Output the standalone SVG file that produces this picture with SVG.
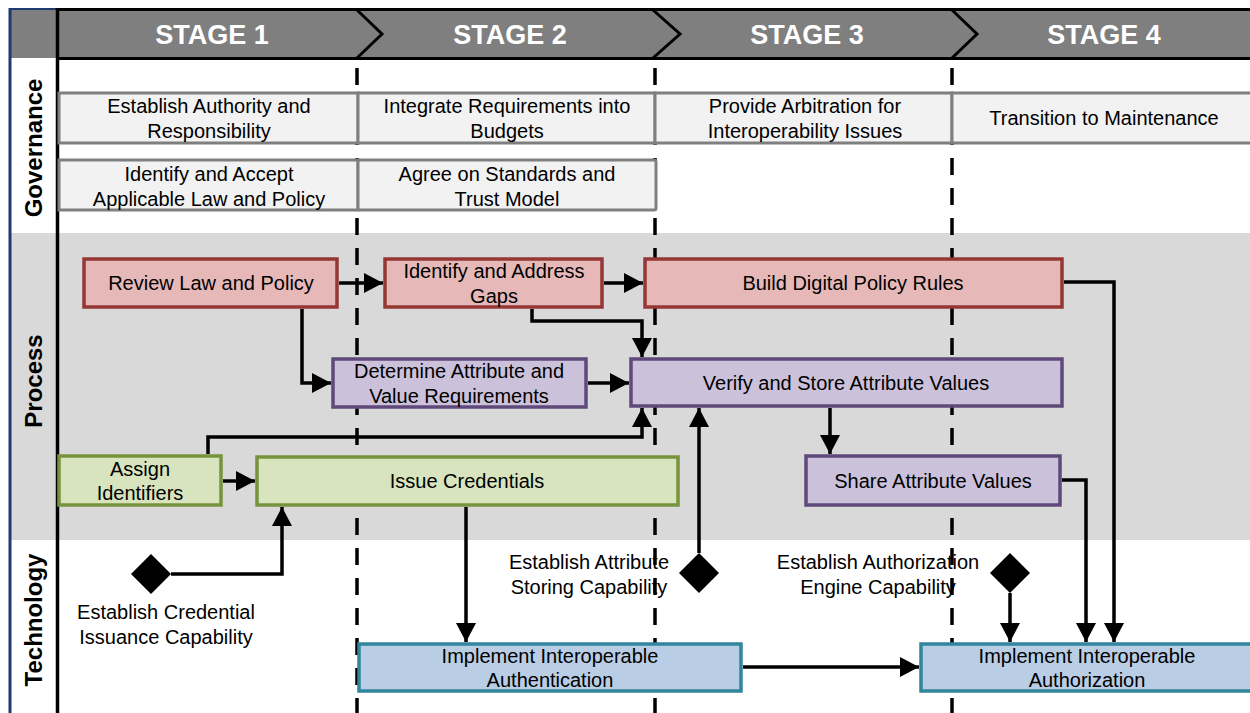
<svg xmlns="http://www.w3.org/2000/svg" width="1250" height="713" viewBox="0 0 1250 713">
<style>
text{font-family:"Liberation Sans",Arial,sans-serif;font-size:20px;fill:#000;text-anchor:middle}
.stage{font-size:27px;font-weight:bold;fill:#fff}
.lane{font-size:24px;font-weight:bold}
.gov{fill:#f2f2f2;stroke:#7f7f7f;stroke-width:3}
.red{fill:#e6b9b8;stroke:#953735;stroke-width:3.5}
.pur{fill:#ccc1da;stroke:#5f497a;stroke-width:3.5}
.grn{fill:#d7e4bd;stroke:#77933c;stroke-width:3.5}
.blu{fill:#b9cde5;stroke:#31859c;stroke-width:3.5}
.dash{stroke:#000;stroke-width:3.5;stroke-dasharray:17 13;fill:none}
.conn path{fill:none;stroke:#000;stroke-width:3.5;marker-end:url(#arr)}
.dia{fill:#000}
</style>
<defs>
<marker id="arr" markerUnits="userSpaceOnUse" markerWidth="20" markerHeight="20" refX="19" refY="10" orient="auto">
<path d="M0,0 L19,10 L0,20 Z" fill="#000"/>
</marker>
</defs>
<rect x="0" y="0" width="1250" height="713" fill="#fff"/>
<!-- lanes -->
<rect x="10" y="233" width="1240" height="307" fill="#d9d9d9"/>
<!-- header -->
<rect x="10" y="9" width="1240" height="49" fill="#7f7f7f"/>
<line x1="57" y1="9.5" x2="1250" y2="9.5" stroke="#000" stroke-width="3"/>
<line x1="57" y1="58.5" x2="1250" y2="58.5" stroke="#000" stroke-width="3"/>
<line x1="9" y1="9" x2="57" y2="9" stroke="#1f3a6e" stroke-width="2"/>
<line x1="10" y1="8" x2="10" y2="713" stroke="#1f3a6e" stroke-width="3"/>
<line x1="57.5" y1="8" x2="57.5" y2="713" stroke="#000" stroke-width="3.5"/>
<g fill="none" stroke="#000" stroke-width="3">
<polyline points="357,10 382,34 357,58"/>
<polyline points="653,10 680,34 653,58"/>
<polyline points="952,10 977,34 952,58"/>
</g>
<text class="stage" x="212" y="44">STAGE 1</text>
<text class="stage" x="510" y="44">STAGE 2</text>
<text class="stage" x="807" y="44">STAGE 3</text>
<text class="stage" x="1104" y="44">STAGE 4</text>
<text class="lane" transform="translate(42,148) rotate(-90)">Governance</text>
<text class="lane" transform="translate(42,381) rotate(-90)">Process</text>
<text class="lane" transform="translate(42,620) rotate(-90)">Technology</text>
<!-- diamond labels -->
<text x="166" y="619">Establish Credential</text>
<text x="166" y="644">Issuance Capability</text>
<text x="589" y="569">Establish Attribute</text>
<text x="589" y="594">Storing Capability</text>
<text x="878" y="569">Establish Authorization</text>
<text x="878" y="594">Engine Capability</text>
<!-- stage dividers -->
<line class="dash" x1="357" y1="68" x2="357" y2="713"/>
<line class="dash" x1="655" y1="68" x2="655" y2="713"/>
<line class="dash" x1="952" y1="68" x2="952" y2="713"/>
<!-- governance -->
<g id="gov-authority"><rect class="gov" x="59" y="93" width="299" height="50"/><text x="209" y="113">Establish Authority and</text><text x="209" y="138">Responsibility</text></g>
<g id="gov-budgets"><rect class="gov" x="358" y="93" width="297" height="50"/><text x="507" y="113">Integrate Requirements into</text><text x="507" y="138">Budgets</text></g>
<g id="gov-arbitration"><rect class="gov" x="655" y="93" width="297" height="50"/><text x="805" y="113">Provide Arbitration for</text><text x="805" y="138">Interoperability Issues</text></g>
<g id="gov-maintenance"><rect class="gov" x="952" y="93" width="300" height="50"/><text x="1104" y="125">Transition to Maintenance</text></g>
<g id="gov-law"><rect class="gov" x="59" y="160" width="299" height="50"/><text x="209" y="181">Identify and Accept</text><text x="209" y="206">Applicable Law and Policy</text></g>
<g id="gov-standards"><rect class="gov" x="358" y="160" width="298" height="50" rx="2"/><text x="507" y="181">Agree on Standards and</text><text x="507" y="206">Trust Model</text></g>
<!-- connectors -->
<g id="connectors" class="conn">
<path d="M339,283 H383"/>
<path d="M302,309 V383 H331"/>
<path d="M604,283 H643"/>
<path d="M532,309 V321 H642 V357"/>
<path d="M588,383 H629"/>
<path d="M208,454 V437 H642 V408"/>
<path d="M223,481 H255"/>
<path d="M830,408 V454"/>
<path d="M466,507 V642"/>
<path d="M743,667 H919"/>
<path d="M1064,282 H1114 V642"/>
<path d="M1062,480 H1086 V642"/>
<path d="M1010,593 V642"/>
<path d="M171,574 H282 V507"/>
<path d="M699,553 V408"/>
</g>
<!-- process -->
<g id="review"><rect class="red" x="84" y="259" width="253" height="48"/><text x="211" y="290">Review Law and Policy</text></g>
<g id="gaps"><rect class="red" x="385" y="259" width="217" height="48"/><text x="494" y="278">Identify and Address</text><text x="494" y="303">Gaps</text></g>
<g id="build"><rect class="red" x="645" y="259" width="417" height="48"/><text x="853" y="290">Build Digital Policy Rules</text></g>
<g id="determine"><rect class="pur" x="333" y="359" width="253" height="48"/><text x="459" y="378">Determine Attribute and</text><text x="459" y="403">Value Requirements</text></g>
<g id="verify"><rect class="pur" x="631" y="359" width="431" height="47"/><text x="846" y="390">Verify and Store Attribute Values</text></g>
<g id="assign"><rect class="grn" x="59" y="456" width="162" height="49"/><text x="140" y="476">Assign</text><text x="140" y="500">Identifiers</text></g>
<g id="issue"><rect class="grn" x="257" y="457" width="421" height="48"/><text x="467" y="488">Issue Credentials</text></g>
<g id="share"><rect class="pur" x="806" y="456" width="254" height="49"/><text x="933" y="488">Share Attribute Values</text></g>
<!-- technology -->
<g id="authentication"><rect class="blu" x="359" y="644" width="382" height="47"/><text x="550" y="663">Implement Interoperable</text><text x="550" y="687">Authentication</text></g>
<g id="authorization"><rect class="blu" x="921" y="644" width="332" height="47"/><text x="1087" y="663">Implement Interoperable</text><text x="1087" y="687">Authorization</text></g>
<g id="dia-credential"><polygon class="dia" points="151,554 171,574 151,594 131,574"/></g>
<g id="dia-storing"><polygon class="dia" points="699,553 719,573 699,593 679,573"/></g>
<g id="dia-engine"><polygon class="dia" points="1010,553 1030,573 1010,593 990,573"/></g>
</svg>
